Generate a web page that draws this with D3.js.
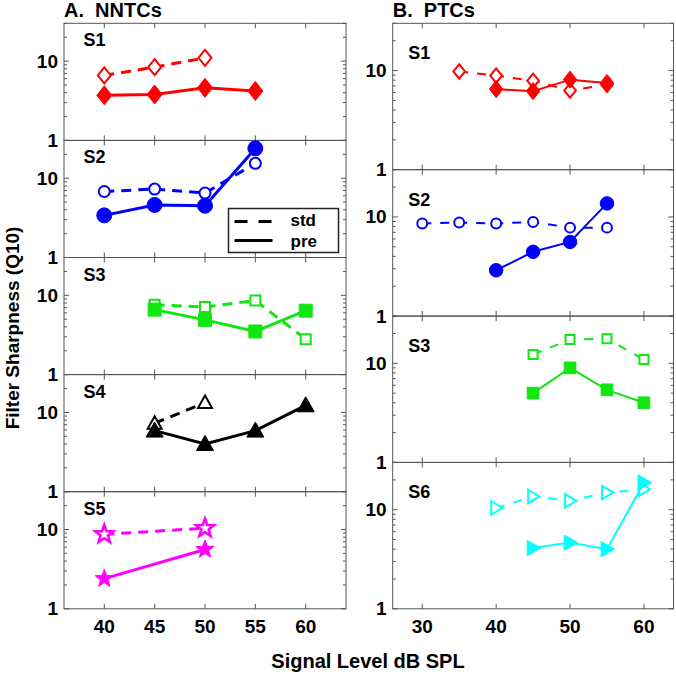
<!DOCTYPE html>
<html>
<head>
<meta charset="utf-8">
<script src="https://cdn.jsdelivr.net/npm/d3@7"></script>
<style>
  html, body { margin: 0; padding: 0; background: #fff; }
  svg { display: block; }
  text { font-family: "Liberation Sans", Arial, Helvetica, sans-serif; font-weight: bold; fill: #000; }
</style>
</head>
<body>
<svg id="chart" width="676" height="675"></svg>
<script>
// ---------------- DATA ----------------
// A. NNTCs
const nntcS1StdLevel = [40, 45, 50];
const nntcS1Std      = [6.6, 8.4, 11.0];
const nntcS1PreLevel = [40, 45, 50, 55];
const nntcS1Pre      = [3.7, 3.8, 4.6, 4.2];

const nntcS2StdLevel = [40, 45, 50, 55];
const nntcS2Std      = [6.8, 7.3, 6.5, 15.4];
const nntcS2PreLevel = [40, 45, 50, 55];
const nntcS2Pre      = [3.4, 4.6, 4.5, 23.8];

const nntcS3StdLevel = [45, 50, 55, 60];
const nntcS3Std      = [7.6, 7.1, 8.6, 2.8];
const nntcS3PreLevel = [45, 50, 55, 60];
const nntcS3Pre      = [6.6, 4.9, 3.5, 6.4];

const nntcS4StdLevel = [45, 50];
const nntcS4Std      = [7.3, 13.3];
const nntcS4PreLevel = [45, 50, 55, 60];
const nntcS4Pre      = [5.9, 4.0, 5.9, 12.3];

const nntcS5StdLevel = [40, 50];
const nntcS5Std      = [8.7, 10.4];
const nntcS5PreLevel = [40, 50];
const nntcS5Pre      = [2.4, 5.6];

// B. PTCs
const ptcS1StdLevel = [35, 40, 45, 50, 55];
const ptcS1Std      = [9.8, 8.9, 7.9, 6.3, 7.2];
const ptcS1PreLevel = [40, 45, 50, 55];
const ptcS1Pre      = [6.5, 6.2, 8.1, 7.5];

const ptcS2StdLevel = [30, 35, 40, 45, 50, 55];
const ptcS2Std      = [8.6, 8.8, 8.6, 8.9, 7.8, 7.8];
const ptcS2PreLevel = [40, 45, 50, 55];
const ptcS2Pre      = [2.9, 4.45, 5.6, 13.7];

const ptcS3StdLevel = [45, 50, 55, 60];
const ptcS3Std      = [12.3, 17.4, 17.7, 10.9];
const ptcS3PreLevel = [45, 50, 55, 60];
const ptcS3Pre      = [5.0, 9.0, 5.4, 4.0];

const ptcS6StdLevel = [40, 45, 50, 55, 60];
const ptcS6Std      = [10.4, 13.6, 12.3, 14.9, 16.1];
const ptcS6PreLevel = [45, 50, 55, 60];
const ptcS6Pre      = [4.1, 4.66, 4.0, 18.8];

// tick labels
const nntcXTicks = [40, 45, 50, 55, 60];
const ptcXTicks  = [30, 40, 50, 60];
const yMajorTicks = [1, 10];
const yMinorTicks = [2, 3, 4, 5, 6, 7, 8, 9, 20, 30];
const nntcXDomain = [36, 64];
const ptcXDomain  = [26, 64];
const yDomain = [1, 30];

const columnTitles = ["A.  NNTCs", "B.  PTCs"];
const xTitle = "Signal Level dB SPL";
const yTitle = "Filter Sharpness (Q10)";
const legendLabels = ["std", "pre"];

// ---------------- PANELS ----------------
const zip = (xs, ys) => xs.map((x, i) => [x, ys[i]]);

const nntcPanels = [
  { label: "S1", color: "#ff0000", marker: "diamond",  std: zip(nntcS1StdLevel, nntcS1Std), pre: zip(nntcS1PreLevel, nntcS1Pre) },
  { label: "S2", color: "#0000ff", marker: "circle",   std: zip(nntcS2StdLevel, nntcS2Std), pre: zip(nntcS2PreLevel, nntcS2Pre), legend: true },
  { label: "S3", color: "#10e610", marker: "square",   std: zip(nntcS3StdLevel, nntcS3Std), pre: zip(nntcS3PreLevel, nntcS3Pre) },
  { label: "S4", color: "#000000", marker: "triUp",    std: zip(nntcS4StdLevel, nntcS4Std), pre: zip(nntcS4PreLevel, nntcS4Pre) },
  { label: "S5", color: "#ff00ff", marker: "star",     std: zip(nntcS5StdLevel, nntcS5Std), pre: zip(nntcS5PreLevel, nntcS5Pre) }
];
const ptcPanels = [
  { label: "S1", color: "#ff0000", marker: "diamond",  std: zip(ptcS1StdLevel, ptcS1Std), pre: zip(ptcS1PreLevel, ptcS1Pre) },
  { label: "S2", color: "#0000ff", marker: "circle",   std: zip(ptcS2StdLevel, ptcS2Std), pre: zip(ptcS2PreLevel, ptcS2Pre) },
  { label: "S3", color: "#10e610", marker: "square",   std: zip(ptcS3StdLevel, ptcS3Std), pre: zip(ptcS3PreLevel, ptcS3Pre) },
  { label: "S6", color: "#00ffff", marker: "triRight", std: zip(ptcS6StdLevel, ptcS6Std), pre: zip(ptcS6PreLevel, ptcS6Pre) }
];

// ---------------- MARKERS ----------------
function markerPath(type, filled, k) {
  const s = k;
  switch (type) {
    case "diamond": {
      const w = (filled ? 7.5 : 6.5) * s, h = (filled ? 9.5 : 8) * s;
      return `M0,${-h}L${w},0L0,${h}L${-w},0Z`;
    }
    case "circle": {
      const r = (filled ? 7.5 : 5.5) * s;
      return `M${r},0A${r},${r} 0 1 1 ${-r},0A${r},${r} 0 1 1 ${r},0Z`;
    }
    case "square": {
      const a = (filled ? 6.5 : 5) * s;
      return `M${-a},${-a}H${a}V${a}H${-a}Z`;
    }
    case "triUp": {
      const w = (filled ? 8.5 : 7) * s, t = (filled ? 8.5 : 7) * s, b = (filled ? 6.5 : 5.5) * s;
      return `M0,${-t}L${w},${b}L${-w},${b}Z`;
    }
    case "triRight": {
      const h = (filled ? 8.5 : 7.5) * s, r = (filled ? 8.5 : 7) * s, l = (filled ? 6.5 : 5.5) * s;
      return `M${r},0L${-l},${h}L${-l},${-h}Z`;
    }
    case "star": {
      const R = 9.5 * s, ri = 3.9 * s;
      let d = "";
      for (let i = 0; i < 10; i++) {
        const ang = -Math.PI / 2 + i * Math.PI / 5;
        const rr = i % 2 === 0 ? R : ri;
        d += (i === 0 ? "M" : "L") + (rr * Math.cos(ang)).toFixed(2) + "," + (rr * Math.sin(ang)).toFixed(2);
      }
      return d + "Z";
    }
  }
}

// ---------------- LAYOUT ----------------
const svg = d3.select("#chart");
const frameColor = "#555";

const columns = [
  { panels: nntcPanels, x0: 64, x1: 346, domain: nntcXDomain, ticks: nntcXTicks,
    labelDx: 19.5, labelDy: 23, lw: 3, dash: "10,7", mk: 1.0, title: columnTitles[0] },
  { panels: ptcPanels, x0: 392.7, x1: 673.5, domain: ptcXDomain, ticks: ptcXTicks,
    labelDx: 15.5, labelDy: 36, lw: 2, dash: "9,9", mk: 0.9, title: columnTitles[1] }
];
const plotTop = 23.3, plotBottom = 608.8;

columns.forEach(col => {
  const n = col.panels.length;
  const ph = (plotBottom - plotTop) / n;
  const x = d3.scaleLinear().domain(col.domain).range([col.x0, col.x1]);

  svg.append("text").attr("x", col.x0).attr("y", 17)
    .attr("font-size", 20).style("white-space", "pre")
    .text(col.title);

  col.panels.forEach((p, i) => {
    const py0 = plotTop + i * ph, py1 = py0 + ph;
    const y = d3.scaleLog().domain(yDomain).range([py1, py0]);
    const g = svg.append("g");

    g.append("rect").attr("x", col.x0).attr("y", py0)
      .attr("width", col.x1 - col.x0).attr("height", ph)
      .attr("fill", "none").attr("stroke", frameColor).attr("stroke-width", 1);

    const yt = yMajorTicks.map(v => ({ v, len: 5 })).concat(yMinorTicks.map(v => ({ v, len: 3 })));
    yt.forEach(t => {
      const yy = y(t.v);
      g.append("line").attr("x1", col.x0).attr("x2", col.x0 + t.len).attr("y1", yy).attr("y2", yy)
        .attr("stroke", frameColor).attr("stroke-width", 1);
      g.append("line").attr("x1", col.x1).attr("x2", col.x1 - t.len).attr("y1", yy).attr("y2", yy)
        .attr("stroke", frameColor).attr("stroke-width", 1);
    });
    yMajorTicks.forEach(v => {
      g.append("text").attr("x", col.x0 - 6).attr("y", y(v) + 6.5)
        .attr("text-anchor", "end").attr("font-size", 19).text(v);
    });

    col.ticks.forEach(v => {
      const xx = x(v);
      g.append("line").attr("x1", xx).attr("x2", xx).attr("y1", py0).attr("y2", py0 + 5)
        .attr("stroke", frameColor).attr("stroke-width", 1);
      g.append("line").attr("x1", xx).attr("x2", xx).attr("y1", py1).attr("y2", py1 - 5)
        .attr("stroke", frameColor).attr("stroke-width", 1);
    });
    if (i === n - 1) {
      col.ticks.forEach(v => {
        g.append("text").attr("x", x(v)).attr("y", 633)
          .attr("text-anchor", "middle").attr("font-size", 19).text(v);
      });
    }

    g.append("text").attr("x", col.x0 + col.labelDx).attr("y", py0 + col.labelDy)
      .attr("font-size", 18).text(p.label);

    const line = d3.line().x(d => x(d[0])).y(d => y(d[1]));

    g.append("path").datum(p.std).attr("d", line)
      .attr("fill", "none").attr("stroke", p.color).attr("stroke-width", col.lw)
      .attr("stroke-dasharray", col.dash);
    g.selectAll(null).data(p.std).enter().append("path")
      .attr("transform", d => `translate(${x(d[0])},${y(d[1])})`)
      .attr("d", markerPath(p.marker, false, col.mk))
      .attr("fill", "#fff").attr("stroke", p.color)
      .attr("stroke-width", p.marker === "star" ? 2.6 : 2);

    g.append("path").datum(p.pre).attr("d", line)
      .attr("fill", "none").attr("stroke", p.color).attr("stroke-width", col.lw);
    g.selectAll(null).data(p.pre).enter().append("path")
      .attr("transform", d => `translate(${x(d[0])},${y(d[1])})`)
      .attr("d", markerPath(p.marker, true, col.mk))
      .attr("fill", p.color).attr("stroke", p.color).attr("stroke-width", 1);

    if (p.legend) {
      const lx = 228.5, ly = 208.5, lwid = 110, lht = 44;
      const lg = g.append("g");
      lg.append("rect").attr("x", lx).attr("y", ly).attr("width", lwid).attr("height", lht)
        .attr("fill", "#fff").attr("stroke", "#222").attr("stroke-width", 1.5);
      lg.append("line").attr("x1", lx + 6).attr("x2", lx + 44).attr("y1", ly + 13).attr("y2", ly + 13)
        .attr("stroke", "#000").attr("stroke-width", 3).attr("stroke-dasharray", "13,11");
      lg.append("line").attr("x1", lx + 6).attr("x2", lx + 44).attr("y1", ly + 32).attr("y2", ly + 32)
        .attr("stroke", "#000").attr("stroke-width", 3);
      lg.append("text").attr("x", lx + 62).attr("y", ly + 17.5).attr("font-size", 17).text(legendLabels[0]);
      lg.append("text").attr("x", lx + 62).attr("y", ly + 38).attr("font-size", 17).text(legendLabels[1]);
    }
  });
});

svg.append("text").attr("x", 368).attr("y", 668).attr("text-anchor", "middle")
  .attr("font-size", 20).text(xTitle);
svg.append("text").attr("transform", "translate(19,328) rotate(-90)")
  .attr("text-anchor", "middle").attr("font-size", 19).text(yTitle);
</script>
</body>
</html>
